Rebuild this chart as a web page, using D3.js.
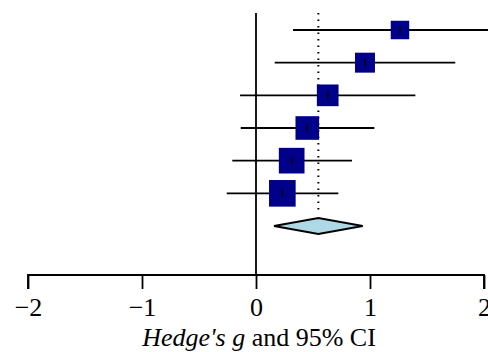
<!DOCTYPE html>
<html><head><meta charset="utf-8">
<script src="https://cdn.jsdelivr.net/npm/d3@7/dist/d3.min.js"></script>
<style>html,body{margin:0;padding:0;background:#fff;overflow:hidden}</style>
</head><body>
<script>
const studies = ["S1","S2","S3","S4","S5","S6"];
const effect = [1.263, 0.956, 0.629, 0.450, 0.313, 0.231];
const ciLow  = [0.325, 0.164, -0.140, -0.134, -0.208, -0.257];
const ciHigh = [2.200, 1.748, 1.398, 1.038, 0.842, 0.722];
const weights = [10.9, 12.7, 15.0, 17.8, 21.0, 22.6];
const pooled = {est: 0.547, low: 0.158, high: 0.936};
const tickValues = [-2, -1, 0, 1, 2];
const axisTitle = ["Hedge's ", "g", " and 95% CI"];

const W = 488, H = 352;
const svg = d3.select("body").append("svg").attr("width", W).attr("height", H);
const x = d3.scaleLinear().domain([-2, 2]).range([28, 484]);
const rows = studies.concat(["pooled"]);
const y = d3.scalePoint().domain(rows).range([30, 226]);
const size = d3.scaleSqrt().domain([0, 25]).range([0, 28]);
const axisY = 275;

svg.append("line").attr("x1", x(0)).attr("x2", x(0)).attr("y1", 13).attr("y2", axisY)
  .attr("stroke", "#000").attr("stroke-width", 1.8);
svg.append("line").attr("x1", x(pooled.est)).attr("x2", x(pooled.est)).attr("y1", 13).attr("y2", 213)
  .attr("stroke", "#000").attr("stroke-width", 2).attr("stroke-dasharray", "1.5,5");

const g = svg.append("g");
studies.forEach((s, i) => {
  const cy = y(s);
  g.append("line").attr("x1", x(ciLow[i])).attr("x2", x(ciHigh[i])).attr("y1", cy).attr("y2", cy)
    .attr("stroke", "#000").attr("stroke-width", 1.8);
  const sz = size(weights[i]);
  g.append("rect").attr("x", x(effect[i]) - sz/2).attr("y", cy - sz/2).attr("width", sz).attr("height", sz)
    .attr("fill", "#00008b");
  g.append("line").attr("x1", x(effect[i])).attr("x2", x(effect[i])).attr("y1", cy - 4).attr("y2", cy + 4)
    .attr("stroke", "#000").attr("stroke-width", 1.5);
});

const dy = y("pooled");
svg.append("path")
  .attr("d", `M${x(pooled.low)},${dy} L${x(pooled.est)},${dy-8} L${x(pooled.high)},${dy} L${x(pooled.est)},${dy+8} Z`)
  .attr("fill", "#add8e6").attr("stroke", "#000").attr("stroke-width", 1.8);

const ax = svg.append("g").attr("transform", `translate(0,${axisY})`)
  .call(d3.axisBottom(x).tickValues(tickValues).tickSize(14).tickPadding(9).tickFormat(d => d < 0 ? "\u2212" + Math.abs(d) : d));
ax.select(".domain").attr("stroke", "#000").attr("stroke-width", 1.8).attr("d", `M${x(-2)},14V0H${x(2)}V14`);
ax.selectAll(".tick line").attr("stroke", "#000").attr("stroke-width", 1.8);
ax.selectAll(".tick text").attr("fill", "#000").attr("font-family", "Liberation Serif, serif").attr("font-size", 26);

const t = svg.append("text").attr("x", 259).attr("y", 346).attr("text-anchor", "middle")
  .attr("font-family", "Liberation Serif, serif").attr("font-size", 26).attr("fill", "#000");
t.append("tspan").attr("font-style", "italic").text(axisTitle[0]);
t.append("tspan").attr("font-style", "italic").text(axisTitle[1]);
t.append("tspan").text(axisTitle[2]);
</script>
</body></html>
